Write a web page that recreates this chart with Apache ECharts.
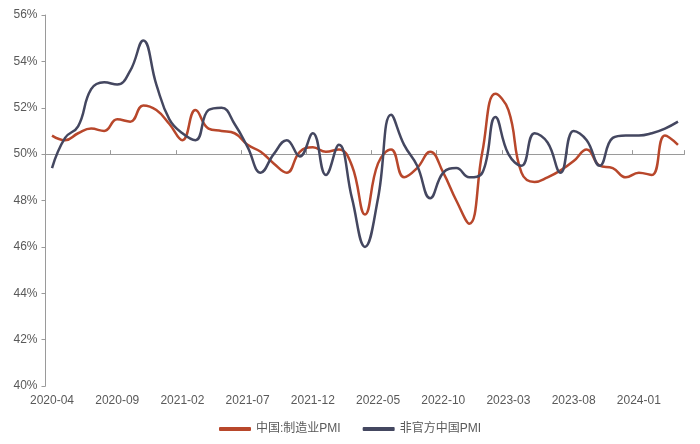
<!DOCTYPE html>
<html>
<head>
<meta charset="utf-8">
<script src="https://cdn.jsdelivr.net/npm/echarts@6/dist/echarts.min.js"></script>
<style>
html,body{margin:0;padding:0;background:#fff;}
#main{width:700px;height:444px;}
</style>
</head>
<body>
<div id="main"></div>
<script>
const categories = [
  '2020-04','2020-05','2020-06','2020-07','2020-08','2020-09','2020-10','2020-11','2020-12',
  '2021-01','2021-02','2021-03','2021-04','2021-05','2021-06','2021-07','2021-08','2021-09','2021-10','2021-11','2021-12',
  '2022-01','2022-02','2022-03','2022-04','2022-05','2022-06','2022-07','2022-08','2022-09','2022-10','2022-11','2022-12',
  '2023-01','2023-02','2023-03','2023-04','2023-05','2023-06','2023-07','2023-08','2023-09','2023-10','2023-11','2023-12',
  '2024-01','2024-02','2024-03','2024-04'
];
const officialPMI = [
  50.8,50.6,50.9,51.1,51.0,51.5,51.4,52.1,51.9,
  51.3,50.6,51.9,51.1,51.0,50.9,50.4,50.1,49.6,49.2,50.1,50.3,
  50.1,50.2,49.5,47.4,49.6,50.2,49.0,49.4,50.1,49.2,48.0,47.0,
  50.1,52.6,51.9,49.2,48.8,49.0,49.3,49.7,50.2,49.5,49.4,49.0,
  49.2,49.1,50.8,50.4
];
const unofficialPMI = [
  49.4,50.7,51.2,52.8,53.1,53.0,53.6,54.9,53.0,
  51.5,50.9,50.6,51.9,52.0,51.3,50.3,49.2,50.0,50.6,49.9,50.9,
  49.1,50.4,48.1,46.0,48.1,51.7,50.4,49.5,48.1,49.2,49.4,49.0,
  49.2,51.6,50.0,49.5,50.9,50.5,49.2,51.0,50.6,49.5,50.7,50.8,
  50.8,50.9,51.1,51.4
];
const seriesNames = ['中国:制造业PMI','非官方中国PMI'];
const yMin = 40, yMax = 56, yStep = 2;

const chart = echarts.init(document.getElementById('main'));
const gridTop = 15, gridBottom = 58;
const gridH = 444 - gridTop - gridBottom;
const baseOffset = -gridH * (50 - yMin) / (yMax - yMin);
const txt = '#595959';
const font = 'Arial, "Liberation Sans", "Noto Sans CJK SC", sans-serif';

chart.setOption({
  animation: false,
  backgroundColor: '#fff',
  grid: { left: 45.5, right: 15.5, top: gridTop, bottom: gridBottom },
  legend: {
    bottom: 4, left: 'center',
    itemWidth: 32, itemHeight: 4, itemGap: 22,
    icon: 'roundRect',
    textStyle: { color: txt, fontSize: 12, fontFamily: font },
    data: seriesNames
  },
  xAxis: [
    {
      type: 'category', data: categories, position: 'bottom',
      boundaryGap: true,
      axisLine: { show: false }, axisTick: { show: false },
      axisLabel: { interval: 4, color: txt, fontSize: 12, fontFamily: font, margin: 9 }
    },
    {
      type: 'category', data: categories, position: 'bottom',
      boundaryGap: true, offset: baseOffset,
      axisLine: { show: true, lineStyle: { color: '#9a9a9a', width: 1 } },
      axisTick: { show: true, inside: true, interval: 4, length: 4, lineStyle: { color: '#9a9a9a' } },
      axisLabel: { show: false }
    }
  ],
  yAxis: {
    type: 'value', min: yMin, max: yMax, interval: yStep,
    axisLine: { show: true, lineStyle: { color: '#9a9a9a' } },
    axisTick: { show: true, length: 4, lineStyle: { color: '#9a9a9a' } },
    splitLine: { show: false },
    axisLabel: { formatter: '{value}%', color: txt, fontSize: 12, fontFamily: font, margin: 8 }
  },
  series: [
    {
      name: seriesNames[0], type: 'line', data: officialPMI, smooth: 0.45,
      showSymbol: false, symbol: 'none',
      lineStyle: { color: '#b8472b', width: 2.5 }, itemStyle: { color: '#b8472b' }
    },
    {
      name: seriesNames[1], type: 'line', data: unofficialPMI, smooth: 0.45,
      showSymbol: false, symbol: 'none',
      lineStyle: { color: '#444760', width: 2.5 }, itemStyle: { color: '#444760' }
    }
  ]
});
</script>
</body>
</html>
